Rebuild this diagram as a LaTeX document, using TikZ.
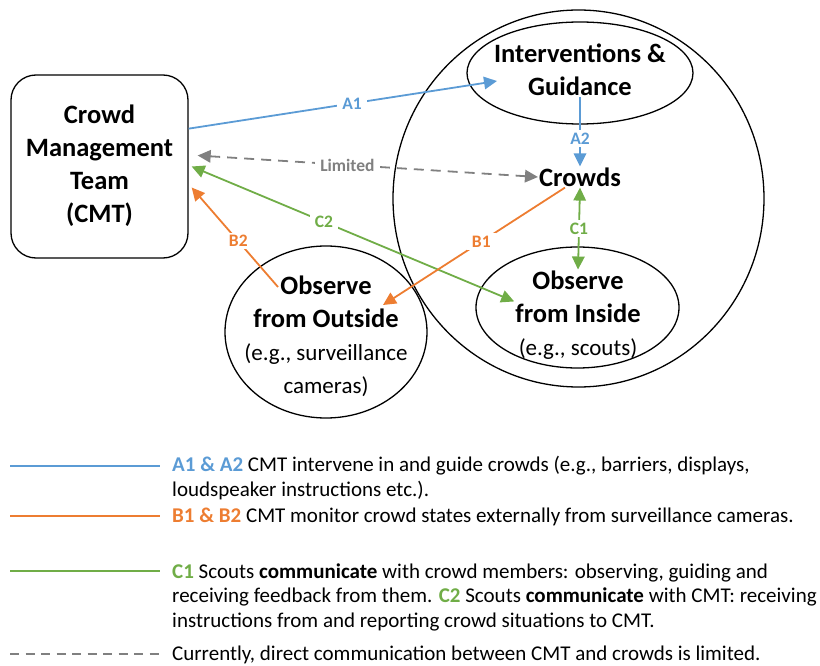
\documentclass[tikz,border=0pt]{standalone}
\usepackage{fontspec}
\setmainfont{Carlito}
\usetikzlibrary{arrows.meta,shapes.geometric,calc}
\definecolor{cblue}{HTML}{5B9BD5}
\definecolor{corange}{HTML}{ED7D31}
\definecolor{cgreen}{HTML}{70AD47}
\definecolor{cgray}{HTML}{808080}
\newcommand{\subtxt}[1]{{\fontsize{23}{30}\selectfont\mdseries #1}}
\begin{document}
\begin{tikzpicture}[x=1pt,y=-1pt,
  outline/.style={draw=black, line width=1.3pt},
  bigtxt/.style={font=\fontsize{26.5}{33}\selectfont\bfseries, align=center, inner sep=1pt},
  lbl/.style={font=\fontsize{17.5}{20}\selectfont\bfseries, fill=white, inner xsep=5pt, inner ysep=2.5pt},
  conn/.style={line width=1.8pt},
  onetip/.style={-{Triangle[length=13pt,width=12.5pt]}},
  twotips/.style={{Triangle[length=13pt,width=12.5pt]}-{Triangle[length=13pt,width=12.5pt]}},
  legtxt/.style={font=\fontsize{21}{24.5}\selectfont, align=left, inner sep=0pt, anchor=west},
  legline/.style={line width=1.6pt}
]
\useasboundingbox (0,0) rectangle (820,666);

% shapes
\node[outline, rounded corners=25pt, minimum width=177, minimum height=183] (cmt) at (99.5,166.5) {};
\node[bigtxt] (cmttext) at (99.5,166) {Crowd\\Management\\Team\\(CMT)};

\node[outline, ellipse, inner sep=0pt, minimum width=371, minimum height=377] (big) at (578.5,198.5) {};
\node[outline, ellipse, inner sep=0pt, minimum width=226, minimum height=102] (interv) at (580,73) {};
\node[bigtxt] (intervtext) at (580,70) {Interventions \&\\Guidance};

\node[bigtxt] (crowds) at (580,177) {Crowds};

\node[outline, ellipse, inner sep=0pt, minimum width=203, minimum height=121] (inside) at (577.5,307.5) {};
\node[bigtxt] (insidetext) at (578,315) {Observe\\from Inside\\\subtxt{(e.g., scouts)}};

\node[outline, ellipse, inner sep=0pt, minimum width=202, minimum height=172] (outside) at (326,332) {};
\node[bigtxt] (outsidetext) at (326,336) {Observe\\from Outside\\\subtxt{(e.g., surveillance}\\\subtxt{cameras)}};

% connectors
\draw[conn, cblue, onetip] (cmt.23.5) -- node[lbl, pos=0.53] {A1} ($(interv.center)+(-83,8)$);
\draw[conn, cblue, onetip] (intervtext.south) -- node[lbl, pos=0.6] {A2} (crowds.north);
\draw[conn, cgray, twotips, dash pattern=on 10pt off 7pt] ($(cmt.east)+(9,-11)$) -- node[lbl, pos=0.44, text=cgray] {Limited} (crowds.west);
\draw[conn, cgreen, twotips] ($(cmt.east)+(3,0)$) -- node[lbl, pos=0.41] {C2} (insidetext.168);
\draw[conn, corange, onetip] ($(crowds.south)+(-15,0)$) -- node[lbl, pos=0.46] {B1} ($(outsidetext.center)+(57,-31)$);
\draw[conn, corange, onetip] ($(outsidetext.center)+(-48,-49)$) -- node[lbl, pos=0.46] {B2} ($(cmt.east)+(3,21)$);
\draw[conn, cgreen, twotips] (crowds.south) -- node[lbl, pos=0.5] {C1} (insidetext.north);

% legend
\node[legtxt] (leg1) at (172,478) {\textcolor{cblue}{\textbf{A1 \& A2}} CMT intervene in and guide crowds (e.g., barriers, displays,\\loudspeaker instructions etc.).};
\node[legtxt] (leg2) at (172,517) {\textcolor{corange}{\textbf{B1 \& B2}} CMT monitor crowd states externally from surveillance cameras.};
\node[legtxt] (leg3) at (172,597) {\textcolor{cgreen}{\textbf{C1}} Scouts \textbf{communicate} with crowd members: observing, guiding and\\receiving feedback from them. \textcolor{cgreen}{\textbf{C2}} Scouts \textbf{communicate} with CMT: receiving\\instructions from and reporting crowd situations to CMT.};
\node[legtxt] (leg4) at (172,655) {Currently, direct communication between CMT and crowds is limited.};

\draw[legline, cblue] (10,466) -- (160,466);
\draw[legline, corange] (10,516) -- (160,516);
\draw[legline, cgreen] (10,571) -- (160,571);
\draw[legline, cgray, dash pattern=on 9pt off 6.5pt] (10,654) -- (160,654);
\end{tikzpicture}
\end{document}
